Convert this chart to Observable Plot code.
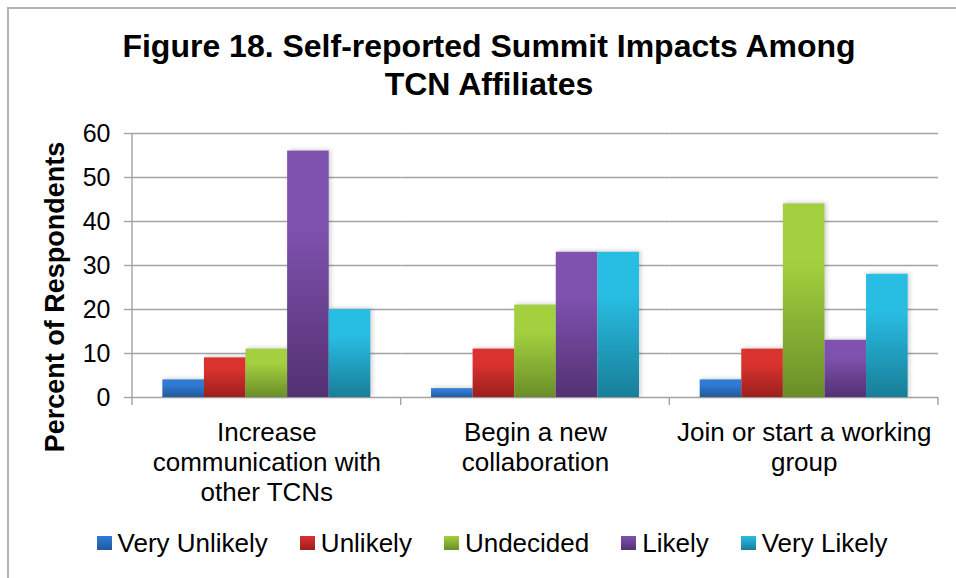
<!DOCTYPE html>
<html>
<head>
<meta charset="utf-8">
<script src="https://cdn.jsdelivr.net/npm/d3@7"></script>
<script src="https://cdn.jsdelivr.net/npm/@observablehq/plot@0.6"></script>
<style>
  html, body { margin: 0; padding: 0; background: #fff; }
  #wrap { position: relative; width: 956px; height: 578px; overflow: hidden; background: #fff;
          font-family: "Liberation Sans", Arial, sans-serif; color: #000; }
  #frame { position: absolute; left: 7px; top: 7px; width: 1200px; height: 1200px;
           border-left: 2px solid #b3b3b3; border-top: 2px solid #b3b3b3; }
  #title { position: absolute; top: 27px; left: 22px; width: 934px; text-align: center;
           font-weight: bold; font-size: 32px; line-height: 38px; }
  #chart { position: absolute; top: 110px; left: 0; }
  #legend { position: absolute; top: 528px; left: 0; width: 984px; display: flex; justify-content: center;
            font-size: 26px; line-height: 30px; }
  .item { display: flex; align-items: center; margin: 0 16px; }
  .sw { width: 15px; height: 14px; margin-right: 6px; }
</style>
</head>
<body>
<div id="wrap">
  <div id="frame"></div>
  <div id="title"></div>
  <div id="chart"></div>
  <div id="legend"></div>
</div>
<script>
// ---- data ----
const titleLines = ["Figure 18. Self-reported Summit Impacts Among", "TCN Affiliates"];
const yLabel = "Percent of Respondents";
const categories = ["Increase communication with other TCNs", "Begin a new collaboration", "Join or start a working group"];
const categoryLabels = ["Increase\ncommunication with\nother TCNs", "Begin a new\ncollaboration", "Join or start a working\ngroup"];
const series = ["Very Unlikely", "Unlikely", "Undecided", "Likely", "Very Likely"];
const veryUnlikely = [4, 2, 4];
const unlikely = [9, 11, 11];
const undecided = [11, 21, 44];
const likely = [56, 33, 13];
const veryLikely = [20, 33, 28];
const yTicks = [0, 10, 20, 30, 40, 50, 60];
const topColors = ["#2f7bd6", "#da332e", "#a3d03f", "#7f52af", "#28bde3"];
const bottomColors = ["#22599b", "#9c1f1c", "#6a8e28", "#533172", "#187e98"];

const seriesValues = [veryUnlikely, unlikely, undecided, likely, veryLikely];
const data = [];
categories.forEach((c, i) => series.forEach((s, j) => data.push({category: c, series: s, value: seriesValues[j][i]})));

document.getElementById("title").innerHTML = titleLines.join("<br>");

const gradIds = series.map((s, i) => `grad${i}`);

const chart = Plot.plot({
  width: 956,
  height: 410,
  marginTop: 23,
  marginBottom: 123,
  marginLeft: 132,
  marginRight: 18,
  style: {fontFamily: "'Liberation Sans', Arial, sans-serif", color: "#000", background: "transparent", overflow: "visible"},
  fx: {domain: categories, padding: 0, round: false},
  x: {domain: series, paddingInner: 0, paddingOuter: 0.73, round: false, axis: null},
  y: {domain: [0, 60], ticks: yTicks},
  color: {domain: series, range: gradIds.map(id => `url(#${id})`)},
  marks: [
    Plot.gridY(yTicks, {stroke: "#a3a3a3", strokeOpacity: 1, strokeWidth: 1.6}),
    Plot.barY(data, {fx: "category", x: "series", y: "value", fill: "series"}),
    Plot.axisY(yTicks, {tickSize: 8, tickPadding: 14, fontSize: 25, stroke: "#a3a3a3", strokeWidth: 1.4, fill: "#000", label: null}),
    Plot.axisFx({anchor: "bottom", tickSize: 0, tickPadding: 22, fontSize: 26, lineHeight: 1.15, fill: "#000",
                 tickFormat: d => categoryLabels[categories.indexOf(d)], label: null})
  ]
});

const svg = d3.select(chart);
const defs = svg.insert("defs", ":first-child");
gradIds.forEach((id, i) => {
  const g = defs.append("linearGradient").attr("id", id).attr("x1", 0).attr("y1", 0).attr("x2", 0).attr("y2", 1);
  g.append("stop").attr("offset", "0").attr("stop-color", topColors[i]);
  g.append("stop").attr("offset", "0.3").attr("stop-color", topColors[i]);
  g.append("stop").attr("offset", "1").attr("stop-color", bottomColors[i]);
});
svg.selectAll('g[aria-label="bar"]').style("filter", "drop-shadow(2px -1px 2px rgba(0,0,0,0.18))");

// axis lines (Excel-style): vertical y axis line and category boundary ticks
const fxs = chart.scale("fx");
const ys = chart.scale("y");
const x0 = fxs.range[0];
const step = (fxs.range[1] - fxs.range[0]) / categories.length;
const y0 = ys.apply(0), yTop = ys.apply(60);
const axisG = svg.append("g").attr("stroke", "#a3a3a3").attr("stroke-width", 1.4);
axisG.append("line").attr("x1", x0).attr("x2", x0).attr("y1", yTop).attr("y2", y0 + 8);
for (let i = 1; i <= categories.length; i++) {
  axisG.append("line").attr("x1", x0 + i * step).attr("x2", x0 + i * step).attr("y1", y0).attr("y2", y0 + 8);
}
// y axis title
svg.append("text")
  .attr("transform", `translate(64, ${(yTop + y0) / 2 + 32}) rotate(-90)`)
  .attr("text-anchor", "middle")
  .attr("font-size", 27).attr("font-weight", "bold").attr("fill", "#000")
  .text(yLabel);

document.getElementById("chart").appendChild(chart);

// legend
const legend = d3.select("#legend");
series.forEach((s, i) => {
  const it = legend.append("div").attr("class", "item");
  it.append("div").attr("class", "sw").style("background", `linear-gradient(to bottom, ${topColors[i]}, ${bottomColors[i]})`);
  it.append("span").text(s);
});
</script>
</body>
</html>
